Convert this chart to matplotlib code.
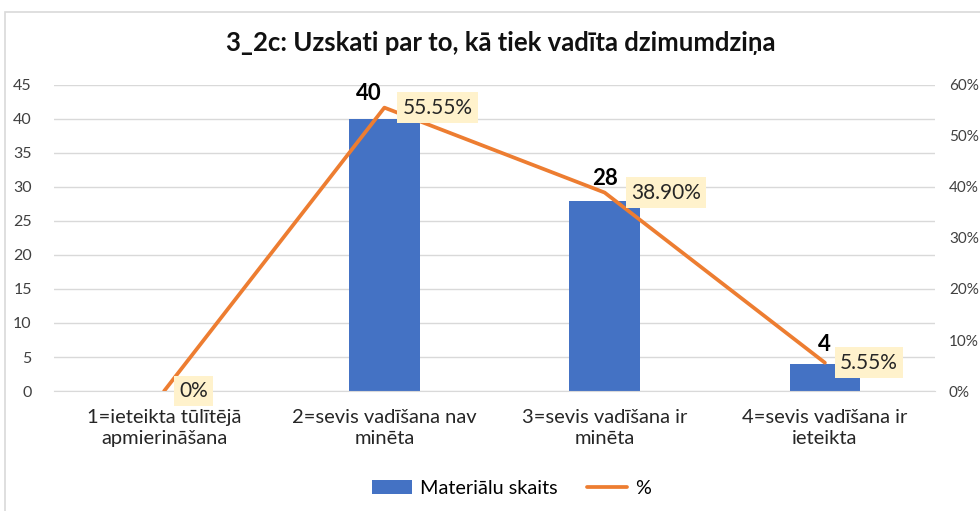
import matplotlib.pyplot as plt
from matplotlib.patches import Rectangle
from matplotlib.ticker import PercentFormatter

plt.rcParams['font.family'] = ['Lato', 'DejaVu Sans']

# dati
kategorijas = ['1=ieteikta tūlītējā\napmierināšana', '2=sevis vadīšana nav\nminēta',
               '3=sevis vadīšana ir\nminēta', '4=sevis vadīšana ir\nieteikta']
skaits = [0, 40, 28, 4]
procenti = [0.0, 0.5555, 0.3890, 0.0555]
procentu_teksti = ['0%', '55.55%', '38.90%', '5.55%']

zils = '#4472C4'
oranzs = '#ED7D31'

fig = plt.figure(figsize=(9.8, 5.11), dpi=100)
ax = fig.add_axes([0.0551, 0.2348, 0.899, 0.599])
ax2 = ax.twinx()

x = list(range(len(kategorijas)))
bars = ax.bar(x, skaits, width=0.32, color=zils, label='Materiālu skaits', zorder=2)
ax.set_xlim(-0.5, 3.5)
ax.set_ylim(0, 45)
ax.set_yticks(range(0, 46, 5))
ax.grid(axis='y', color='#d9d9d9', linewidth=1, zorder=0)
ax.set_axisbelow(True)
ax.set_xticks(x)
ax.set_xticklabels(kategorijas, fontsize=14.5, color='#262626', linespacing=1.3)
ax.tick_params(axis='x', length=0, pad=13)
ax.tick_params(axis='y', length=0, labelsize=11.5, labelcolor='#404040', pad=16)
for s in ['top', 'right', 'left']:
    ax.spines[s].set_visible(False)
ax.spines['bottom'].set_color('#d9d9d9')

# stabiņu vērtības
nobide = [(0, 8), (-11, 11), (0, 8), (0, 6)]
for i, b in enumerate(bars):
    if skaits[i] == 0:
        continue
    ax.annotate(str(skaits[i]), (b.get_x() + b.get_width() / 2, skaits[i]),
                xytext=nobide[i], textcoords='offset points',
                ha='center', va='bottom', fontsize=16, fontweight='bold')

ax2.plot(x, procenti, color=oranzs, linewidth=2.7, label='%', solid_capstyle='round', zorder=3)
ax2.set_ylim(0, 0.6)
ax2.set_yticks([i / 10 for i in range(7)])
ax2.yaxis.set_major_formatter(PercentFormatter(1.0, decimals=0))
ax2.tick_params(axis='y', length=0, labelsize=11, labelcolor='#404040', pad=10)
for s in ['top', 'right', 'left', 'bottom']:
    ax2.spines[s].set_visible(False)

# procentu vērtības
p_nobide = [11, 13, 19, 11]
for i in x:
    ax2.annotate(procentu_teksti[i], (i, procenti[i]), xytext=(p_nobide[i], 0), textcoords='offset points',
                 ha='left', va='center', fontsize=15, color='#262626',
                 bbox=dict(boxstyle='square,pad=0.25', fc='#FFF2CC', ec='none'), zorder=4)

fig.suptitle('3_2c: Uzskati par to, kā tiek vadīta dzimumdziņa', x=0.511, y=0.94,
             fontsize=18.5, fontweight='bold', color='#111111')

h1, l1 = ax.get_legend_handles_labels()
h2, l2 = ax2.get_legend_handles_labels()
fig.legend(h1 + h2, l1 + l2, loc='center', bbox_to_anchor=(0.522, 0.045), ncol=2,
           frameon=False, fontsize=14.3, handlelength=2.0, columnspacing=1.5, handletextpad=0.4)

fig.patches.append(Rectangle((5 / 980, -0.1), 1.2, 1.1 - 12 / 511, transform=fig.transFigure,
                             fill=False, ec='#d9d9d9', lw=1.2))

fig.savefig('out.png', dpi=100)
